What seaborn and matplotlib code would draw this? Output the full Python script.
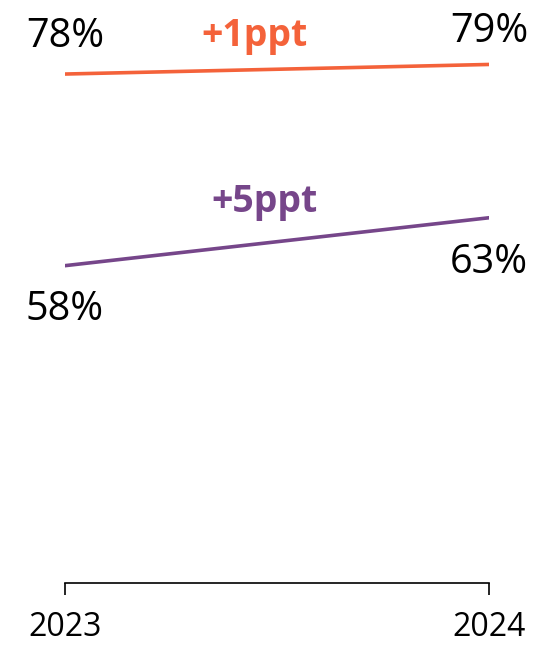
import matplotlib
matplotlib.use("Agg")
import matplotlib.pyplot as plt
import seaborn as sns
import pandas as pd
import numpy as np

# Data
years = [2023, 2024]
series_names = ["Upper", "Lower"]
upper_values = [78, 79]
lower_values = [58, 63]
value_labels_upper = ["78%", "79%"]
value_labels_lower = ["58%", "63%"]
change_labels = ["+1ppt", "+5ppt"]
colors = {"Upper": "#F4623A", "Lower": "#76468A"}

sns.set_theme(style="white")
plt.rcParams["font.family"] = ["Open Sans", "DejaVu Sans"]

df = pd.DataFrame({
    "year": years * 2,
    "value": upper_values + lower_values,
    "series": [series_names[0]] * 2 + [series_names[1]] * 2,
})

fig = plt.figure(figsize=(5.45, 6.46), dpi=100)
ax = fig.add_axes([65 / 545, 63 / 646, 424 / 545, 563 / 646])

sns.lineplot(data=df, x="year", y="value", hue="series", palette=colors,
             linewidth=2.6, ax=ax, legend=False)
for line in ax.get_lines():
    line.set_solid_capstyle("round")

ax.set_xlim(2023, 2024)
ax.set_ylim(24.88, 83.64)

# Axis styling: only a bottom baseline with end ticks
for side in ["top", "left", "right"]:
    ax.spines[side].set_visible(False)
ax.spines["bottom"].set_color("black")
ax.spines["bottom"].set_linewidth(1.2)
ax.set_yticks([])
ax.set_xticks(years)
ax.set_xticklabels([str(y) for y in years])
ax.tick_params(axis="x", bottom=True, direction="out", length=8.5, width=1.2,
               color="black", labelsize=23, labelcolor="black", pad=12)
ax.set_xlabel("")
ax.set_ylabel("")

# Value labels at each end of the lines
for xv, yv, lab, dy in zip(years, upper_values, value_labels_upper, [27, 22]):
    ax.annotate(lab, xy=(xv, yv), xytext=(0, dy), textcoords="offset pixels",
                ha="center", va="baseline", fontsize=28.5, color="black")
for xv, yv, lab, dy in zip(years, lower_values, value_labels_lower, [-54, -55]):
    ax.annotate(lab, xy=(xv, yv), xytext=(0, dy), textcoords="offset pixels",
                ha="center", va="baseline", fontsize=28.5, color="black")

# Change labels above each line
for vals, lab, name, frac, dy in [
    (upper_values, change_labels[0], "Upper", 0.448, 24),
    (lower_values, change_labels[1], "Lower", 0.47, 31),
]:
    xm = years[0] + frac * (years[1] - years[0])
    ym = vals[0] + frac * (vals[1] - vals[0])
    ax.annotate(lab, xy=(xm, ym), xytext=(0, dy), textcoords="offset pixels",
                ha="center", va="baseline", fontsize=27, fontweight="bold",
                color=colors[name])

fig.savefig("out.png", dpi=100)
